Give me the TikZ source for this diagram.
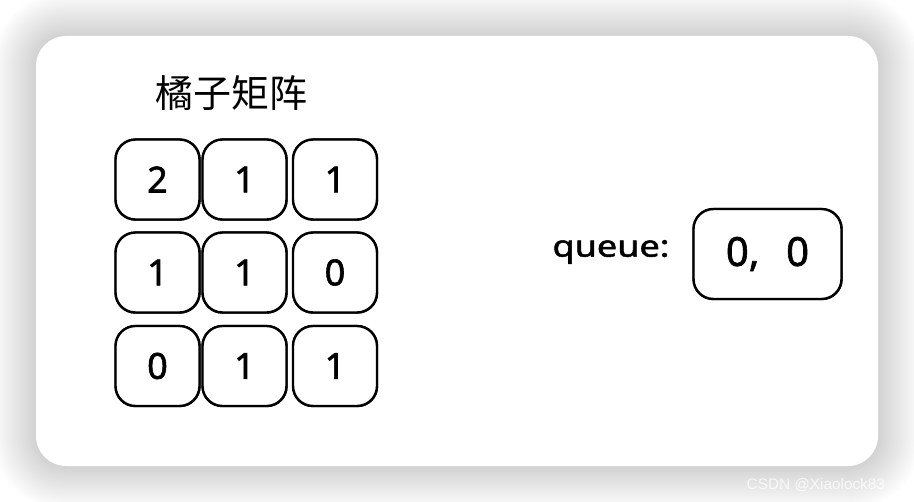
\documentclass[tikz,border=0pt]{standalone}
\usepackage{fontspec}
\setmainfont{Noto Sans}
\newfontfamily\numfont{Noto Sans}[FakeBold=1.6]
\newfontfamily\cjkfont{Noto Sans CJK SC}
\newfontfamily\wmfont{Liberation Sans}
\usetikzlibrary{calc}
\tikzset{
  cell/.style={draw, line width=1.8pt, rounded corners=15pt, minimum width=84*0.75pt, minimum height=80*0.75pt, inner sep=0pt, font=\numfont\fontsize{27}{30}\selectfont},
  sk/.style={line width=1.2pt, rounded corners=15pt},
}
\newcommand{\skbox}[4]{%
  \node[cell] (#1) at (#2,#3) {#4};
  \draw[sk] ($(#1.south west)+(1,-0.8)$) rectangle ($(#1.north east)+(-0.8,1)$);
}
\begin{document}
\begin{tikzpicture}[x=0.75pt,y=-0.75pt]
\useasboundingbox (0,0) rectangle (914,502);
\fill[white] (0,0) rectangle (914,502);
% shadow
\foreach \i in {0,...,22}{
  \fill[black, opacity=0.009, rounded corners={(30+2*\i)*0.75pt}]
    ({36-2*\i},{36-2*\i}) rectangle ({878+2*\i},{466+2*\i});
}
\fill[white, rounded corners=22.5pt] (36,36) rectangle (878,466);
% title
\node (title) at (231,93) {\cjkfont\fontsize{28.5}{30}\selectfont 橘子矩阵};
% grid
\skbox{c11}{157.5}{179.5}{2}
\skbox{c12}{244.5}{179.5}{1}
\skbox{c13}{335}{179.5}{1}
\skbox{c21}{157.5}{272.5}{1}
\skbox{c22}{244.5}{272.5}{1}
\skbox{c23}{335}{272.5}{0}
\skbox{c31}{157.5}{366}{0}
\skbox{c32}{244.5}{366}{1}
\skbox{c33}{335}{366}{1}
% queue
\node (qlabel) at (611,252) {\scalebox{1.2}[1]{\numfont\fontsize{22.5}{24}\selectfont queue:}};
\node[cell, minimum width=148*0.75pt, minimum height=90*0.75pt, font=\numfont\fontsize{30}{32}\selectfont] (q) at (767.5,254) {0,\hspace{20pt}0};
\draw[sk] ($(q.south west)+(1,-0.8)$) rectangle ($(q.north east)+(-0.8,1)$);
% watermark
\node[anchor=west, text=white, opacity=0.75, font=\wmfont\fontsize{11.5}{12}\selectfont] (wm) at (742,485) {CSDN @Xiaolock83};
\end{tikzpicture}
\end{document}
